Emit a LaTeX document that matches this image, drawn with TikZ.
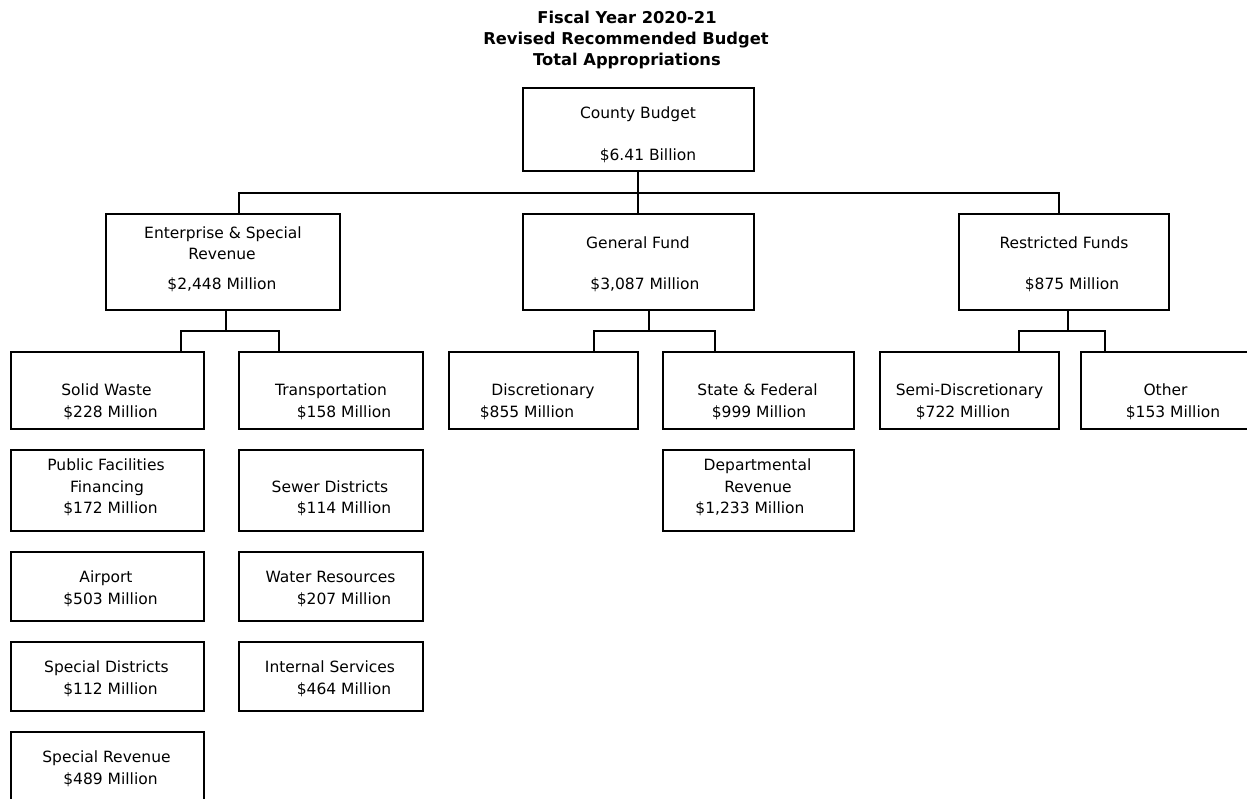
\documentclass[tikz,border=0pt]{standalone}
\usepackage{fontspec}
\setmainfont{DejaVu Sans}
\usetikzlibrary{fit}
\begin{document}
\begin{tikzpicture}[x=1pt,y=-1pt,
  box/.style={draw, line width=1.9pt, inner sep=0pt, rectangle},
  txt/.style={font=\fontsize{15.5}{18}\selectfont, inner sep=0pt, anchor=base},
  ttl/.style={font=\fontsize{16.3}{20}\selectfont\bfseries, inner sep=0pt, anchor=base},
  conn/.style={line width=1.9pt}]
\clip (0,0) rectangle (1247,798);
\fill[white] (0,0) rectangle (1247,798);

% title
\node[ttl] (ti1) at (627,23) {Fiscal Year 2020-21};
\node[ttl] (ti2) at (626,44) {Revised Recommended Budget};
\node[ttl] (ti3) at (627,65) {Total Appropriations};

% boxes
\node[box, fit={(523,88) (754,171)}] (county) {};
\node[box, fit={(106,214) (340,310)}] (ent) {};
\node[box, fit={(523,214) (754,310)}] (gf) {};
\node[box, fit={(959,214) (1169,310)}] (res) {};
\node[box, fit={(11,352) (204,429)}] (sw) {};
\node[box, fit={(239,352) (423,429)}] (tr) {};
\node[box, fit={(449,352) (638,429)}] (dis) {};
\node[box, fit={(663,352) (854,429)}] (sf) {};
\node[box, fit={(880,352) (1059,429)}] (semi) {};
\node[box, fit={(1081,352) (1262,429)}] (oth) {};
\node[box, fit={(11,450) (204,531)}] (pf) {};
\node[box, fit={(239,450) (423,531)}] (sew) {};
\node[box, fit={(663,450) (854,531)}] (dep) {};
\node[box, fit={(11,552) (204,621)}] (air) {};
\node[box, fit={(239,552) (423,621)}] (wat) {};
\node[box, fit={(11,642) (204,711)}] (spd) {};
\node[box, fit={(239,642) (423,711)}] (ins) {};
\node[box, fit={(11,732) (204,812)}] (spr) {};

% connectors
\coordinate (cJ) at (638,193);
\coordinate (hL) at (239,193);
\coordinate (hR) at (1059,193);
\draw[conn] (county.south -| cJ) -- (gf.north -| cJ);
\draw[conn] (ent.north -| hL) -- (hL) -- (hR) -- (res.north -| hR);

\coordinate (eJ) at (226,331);
\coordinate (eL) at (181,331);
\coordinate (eR) at (279,331);
\draw[conn] (ent.south -| eJ) -- (eJ);
\draw[conn] (sw.north -| eL) -- (eL) -- (eR) -- (tr.north -| eR);

\coordinate (gJ) at (649,331);
\coordinate (gL) at (594,331);
\coordinate (gR) at (715,331);
\draw[conn] (gf.south -| gJ) -- (gJ);
\draw[conn] (dis.north -| gL) -- (gL) -- (gR) -- (sf.north -| gR);

\coordinate (rJ) at (1068,331);
\coordinate (rL) at (1019,331);
\coordinate (rR) at (1105,331);
\draw[conn] (res.south -| rJ) -- (rJ);
\draw[conn] (semi.north -| rL) -- (rL) -- (rR) -- (oth.north -| rR);

% texts
\node[txt] (county1) at (638,118) {County Budget};
\node[txt] (county2) at (648,160) {\$6.41 Billion};
\node[txt] (gf1) at (638,248) {General Fund};
\node[txt] (gf2) at (645,289) {\$3,087 Million};
\node[txt] (ent1) at (223,238) {Enterprise \& Special};
\node[txt] (ent2) at (222,259) {Revenue};
\node[txt] (ent3) at (222,289) {\$2,448 Million};
\node[txt] (res1) at (1064,248) {Restricted Funds};
\node[txt] (res2) at (1072,289) {\$875 Million};

\node[txt] (sw1) at (106.5,395) {Solid Waste};
\node[txt] (sw2) at (110.5,417) {\$228 Million};
\node[txt] (tr1) at (331,395) {Transportation};
\node[txt] (tr2) at (344,417) {\$158 Million};
\node[txt] (dis1) at (543,395) {Discretionary};
\node[txt] (dis2) at (527,417) {\$855 Million};
\node[txt] (sf1) at (757.5,395) {State \& Federal};
\node[txt] (sf2) at (759,417) {\$999 Million};
\node[txt] (semi1) at (969.5,395) {Semi-Discretionary};
\node[txt] (semi2) at (963,417) {\$722 Million};
\node[txt] (oth1) at (1165.5,395) {Other};
\node[txt] (oth2) at (1173,417) {\$153 Million};

\node[txt] (pf1) at (106,470) {Public Facilities};
\node[txt] (pf2) at (107,492) {Financing};
\node[txt] (pf3) at (110.5,513) {\$172 Million};
\node[txt] (sew1) at (330,492) {Sewer Districts};
\node[txt] (sew2) at (344,513) {\$114 Million};
\node[txt] (dep1) at (757.5,470) {Departmental};
\node[txt] (dep2) at (758,492) {Revenue};
\node[txt] (dep3) at (750,513) {\$1,233 Million};

\node[txt] (air1) at (106,582) {Airport};
\node[txt] (air2) at (110.5,604) {\$503 Million};
\node[txt] (wat1) at (330.5,582) {Water Resources};
\node[txt] (wat2) at (344,604) {\$207 Million};

\node[txt] (spd1) at (106.5,672) {Special Districts};
\node[txt] (spd2) at (110.5,694) {\$112 Million};
\node[txt] (ins1) at (330,672) {Internal Services};
\node[txt] (ins2) at (344,694) {\$464 Million};

\node[txt] (spr1) at (106.5,762) {Special Revenue};
\node[txt] (spr2) at (110.5,784) {\$489 Million};
\end{tikzpicture}
\end{document}
